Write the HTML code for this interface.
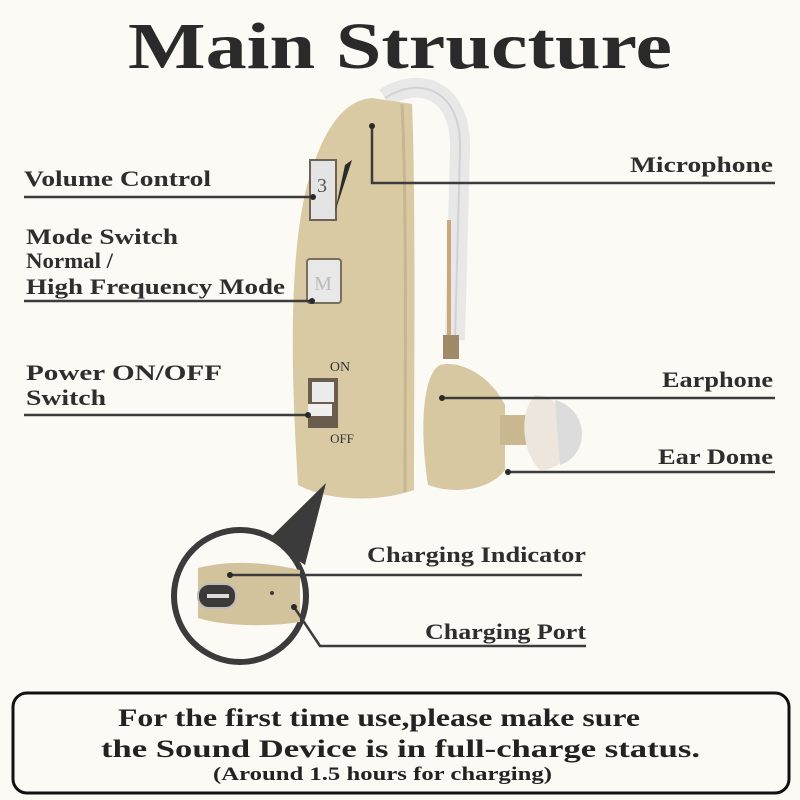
<!DOCTYPE html>
<html><head><meta charset="utf-8"><style>
html,body{margin:0;padding:0;background:#fbfaf4}
svg{display:block}
text{font-family:"Liberation Serif",serif}
</style></head><body>
<svg width="800" height="800" viewBox="0 0 800 800">
<rect width="800" height="800" fill="#fbfaf4"/>
<text x="128" y="68" font-size="66" font-weight="bold" textLength="544" lengthAdjust="spacingAndGlyphs" fill="#2a2a2a">Main Structure</text>
<!-- ear hook -->
<path d="M385,98 C420,75 462,90 460,150 L455,340" fill="none" stroke="#e8e8e8" stroke-width="20"/>
<path d="M385,98 C420,75 462,90 460,150 L455,340" fill="none" stroke="#d2d2d2" stroke-width="2"/>
<line x1="449" y1="220" x2="449" y2="340" stroke="#c9a97a" stroke-width="4"/>
<rect x="443" y="335" width="16" height="24" fill="#a08a68"/>
<!-- body -->
<path d="M298,485 C290,360 288,230 315,160 C330,120 348,100 372,98 L412,104 C416,200 414,380 414,490 C380,502 330,502 298,485Z" fill="#d9caa4"/>
<path d="M402,104 C407,200 405,380 405,492" stroke="#c6b58d" stroke-width="3" fill="none"/>
<!-- earphone -->
<path d="M440,365 C425,372 418,420 428,485 C455,495 490,490 505,470 L505,405 C490,375 460,360 440,365Z" fill="#d7c8a2"/>
<rect x="500" y="415" width="30" height="30" fill="#c9b890"/>
<path d="M535,395 C575,395 585,470 540,470 C520,450 520,410 535,395Z" fill="#ece6dc"/>
<path d="M555,400 C590,410 590,455 560,465Z" fill="#dcdcdc"/>
<!-- volume wheel -->
<rect x="310" y="160" width="26" height="60" fill="#e4e4e4" stroke="#6e6254" stroke-width="2"/>
<text x="322" y="192" font-family="Liberation Sans" font-size="20" text-anchor="middle" fill="#555">3</text>
<path d="M352,160 L345,165 L335,212Z" fill="#2b2b2b"/>
<!-- M button -->
<rect x="307" y="259" width="34" height="44" rx="3" fill="#e8e8e8" stroke="#7a6e5e" stroke-width="2"/>
<text x="323" y="290" font-family="Liberation Sans" font-size="20" text-anchor="middle" fill="#bbb">M</text>
<!-- power switch -->
<text x="340" y="371" font-family="Liberation Sans" font-size="14" text-anchor="middle" fill="#333">ON</text>
<rect x="308" y="378" width="30" height="50" fill="#6a5d4d"/>
<rect x="312" y="382" width="22" height="20" fill="#ececec"/>
<rect x="308" y="404" width="24" height="12" fill="#f0f0f0"/>
<text x="342" y="443" font-family="Liberation Sans" font-size="13" text-anchor="middle" fill="#333">OFF</text>
<!-- pointer -->
<path d="M268,540 L326,483 L305,565Z" fill="#3b3b3b"/>
<circle cx="240" cy="596" r="66" fill="#fbfaf4" stroke="#3b3b3b" stroke-width="6"/>
<path d="M198,568 C230,560 265,562 300,570 L300,622 C260,628 220,625 198,618Z" fill="#d2c39c"/>
<rect x="198" y="584" width="38" height="24" rx="11" fill="#3c3a36" stroke="#bdbdbd" stroke-width="2"/>
<rect x="207" y="594" width="22" height="4" fill="#ddd"/>
<circle cx="272" cy="593" r="2" fill="#3a3a3a"/>
<!-- connectors -->
<g stroke="#3c3c3c" stroke-width="2.5" fill="none">
<line x1="24" y1="197" x2="313" y2="197"/>
<line x1="24" y1="301" x2="312" y2="301"/>
<line x1="24" y1="415" x2="308" y2="415"/>
<polyline points="372,126 372,183 775,183"/>
<line x1="442" y1="398" x2="775" y2="398"/>
<line x1="508" y1="472" x2="775" y2="472"/>
<line x1="230" y1="575" x2="582" y2="575"/>
<polyline points="294,607 320,646 586,646"/>
</g>
<g fill="#2a2a2a">
<circle cx="313" cy="197" r="3"/><circle cx="312" cy="301" r="3"/><circle cx="308" cy="415" r="3"/>
<circle cx="372" cy="126" r="3"/><circle cx="442" cy="398" r="3"/><circle cx="508" cy="472" r="3"/>
<circle cx="230" cy="575" r="3"/><circle cx="294" cy="607" r="3"/>
</g>
<g font-size="22" font-weight="bold" fill="#2e2e2e" lengthAdjust="spacingAndGlyphs">
<text x="24" y="186" textLength="187" lengthAdjust="spacingAndGlyphs">Volume Control</text>
<text x="26" y="244" textLength="152" lengthAdjust="spacingAndGlyphs">Mode Switch</text>
<text x="26" y="268" textLength="87" lengthAdjust="spacingAndGlyphs">Normal /</text>
<text x="26" y="294" textLength="259" lengthAdjust="spacingAndGlyphs">High Frequency Mode</text>
<text x="26" y="380" textLength="196" lengthAdjust="spacingAndGlyphs">Power ON/OFF</text>
<text x="26" y="405" textLength="80" lengthAdjust="spacingAndGlyphs">Switch</text>
<text x="630" y="172" textLength="143" lengthAdjust="spacingAndGlyphs">Microphone</text>
<text x="662" y="387" textLength="111" lengthAdjust="spacingAndGlyphs">Earphone</text>
<text x="658" y="464" textLength="115" lengthAdjust="spacingAndGlyphs">Ear Dome</text>
<text x="367" y="562" textLength="219" lengthAdjust="spacingAndGlyphs">Charging Indicator</text>
<text x="425" y="639" textLength="161" lengthAdjust="spacingAndGlyphs">Charging Port</text>
</g>
<rect x="13" y="693" width="776" height="100" rx="14" fill="#fbfaf4" stroke="#111" stroke-width="3"/>
<g font-weight="bold" fill="#222">
<text x="118" y="726" font-size="25" textLength="522" lengthAdjust="spacingAndGlyphs">For the first time use,please make sure</text>
<text x="101" y="757" font-size="25" textLength="599" lengthAdjust="spacingAndGlyphs">the Sound Device is in full-charge status.</text>
<text x="213" y="780" font-size="19" textLength="339" lengthAdjust="spacingAndGlyphs">(Around 1.5 hours for charging)</text>
</g>
</svg>
</body></html>
